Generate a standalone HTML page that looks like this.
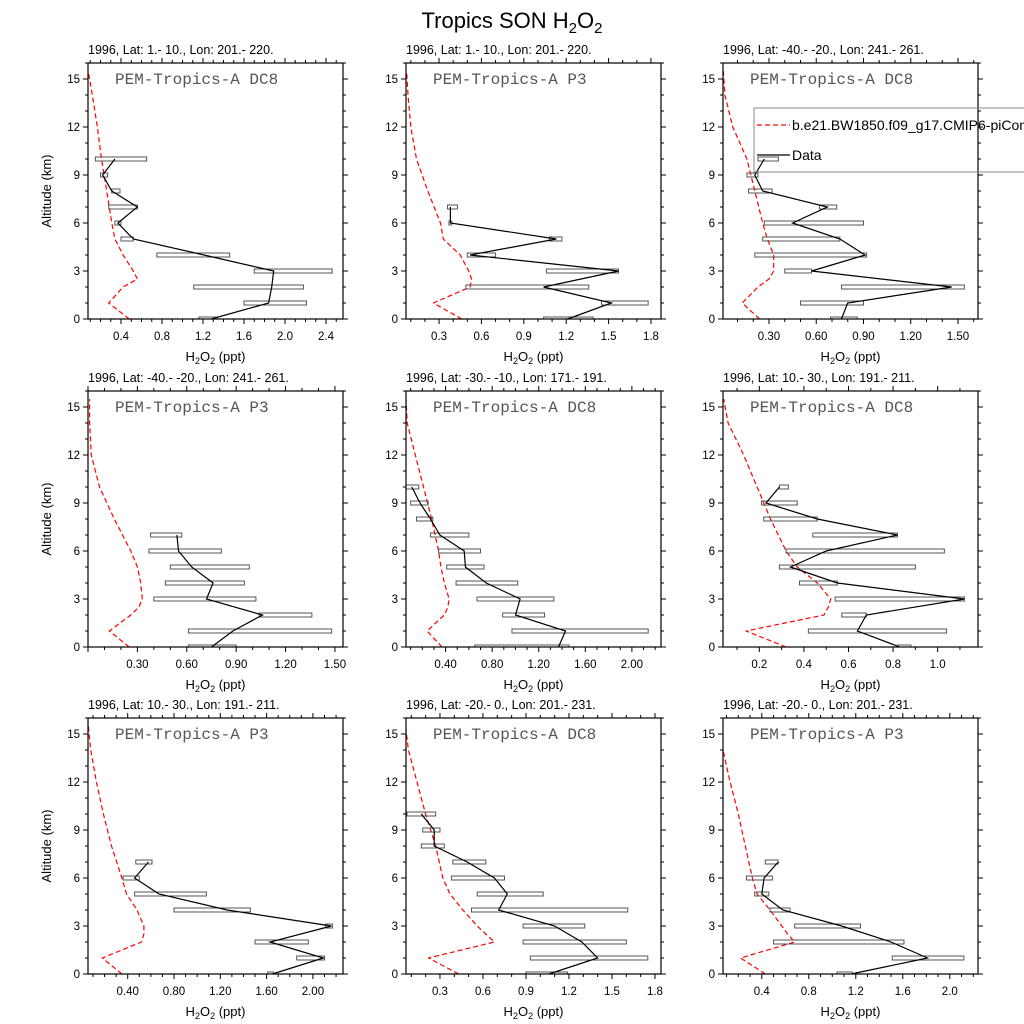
<!DOCTYPE html>
<html><head><meta charset="utf-8"><style>
body{margin:0;background:#fff;width:1024px;height:1024px;overflow:hidden}
svg{display:block}
text{font-family:"Liberation Sans",sans-serif}
text.mono{font-family:"Liberation Mono",monospace}
</style></head><body>
<svg id="chart" width="1024" height="1024" viewBox="0 0 1024 1024" xmlns="http://www.w3.org/2000/svg">
<text x="512" y="28" font-size="22" text-anchor="middle">Tropics SON H<tspan font-size="15" dy="5">2</tspan><tspan dy="-5">O</tspan><tspan font-size="15" dy="5">2</tspan></text>
</svg>
<script>
const NS='http://www.w3.org/2000/svg';
const svg=document.getElementById('chart');
const titles=["1996, Lat: 1.- 10., Lon: 201.- 220.","1996, Lat: 1.- 10., Lon: 201.- 220.","1996, Lat: -40.- -20., Lon: 241.- 261.","1996, Lat: -40.- -20., Lon: 241.- 261.","1996, Lat: -30.- -10., Lon: 171.- 191.","1996, Lat: 10.- 30., Lon: 191.- 211.","1996, Lat: 10.- 30., Lon: 191.- 211.","1996, Lat: -20.- 0., Lon: 201.- 231.","1996, Lat: -20.- 0., Lon: 201.- 231."];
const campaigns=["PEM-Tropics-A DC8","PEM-Tropics-A P3","PEM-Tropics-A DC8","PEM-Tropics-A P3","PEM-Tropics-A DC8","PEM-Tropics-A DC8","PEM-Tropics-A P3","PEM-Tropics-A DC8","PEM-Tropics-A P3"];
const xMins=[0.078,0.066,0.008,0.0,0.06,0.037,0.057,0.063,0.07];
const xMaxs=[2.566,1.871,1.627,1.549,2.25,1.181,2.26,1.842,2.24];
const tickStarts=[0.4,0.3,0.3,0.3,0.4,0.2,0.4,0.3,0.4];
const tickSteps=[0.4,0.3,0.3,0.3,0.4,0.2,0.4,0.3,0.4];
const tickEnds=[2.4,1.8,1.5,1.5,2.0,1.0,2.0,1.8,2.0];
const tickDecimals=[1,1,2,2,2,1,2,1,1];
const minorDivs=[4,3,3,3,4,2,4,3,4];
const obsMean=[
[1.28,1.84,1.87,1.89,1.21,0.52,0.37,0.56,0.31,0.22,0.34],
[1.21,1.52,1.04,1.57,0.52,1.13,0.38,0.38],
[0.76,0.80,1.46,0.57,0.91,0.75,0.45,0.67,0.26,0.21,0.27],
[0.75,0.88,1.06,0.72,0.76,0.63,0.55,0.54],
[1.37,1.43,1.00,1.04,0.75,0.57,0.56,0.35,0.27,0.18,0.11],
[0.83,0.64,0.68,1.12,0.55,0.34,0.50,0.82,0.46,0.23,0.29],
[1.65,2.09,1.63,2.16,1.26,0.67,0.46,0.58],
[1.06,1.40,1.29,1.10,0.71,0.77,0.68,0.49,0.26,0.26,0.17],
[1.16,1.81,1.50,1.08,0.58,0.40,0.42,0.54]];
const obsMin=[
[1.16,1.60,1.11,1.70,0.75,0.40,0.34,0.28,0.31,0.20,0.15],
[1.04,1.45,0.49,1.06,0.50,1.08,0.37,0.36],
[0.69,0.50,0.76,0.40,0.21,0.26,0.27,0.62,0.17,0.16,0.23],
[0.61,0.61,1.04,0.40,0.47,0.50,0.37,0.38],
[0.65,0.97,0.89,0.67,0.49,0.41,0.34,0.27,0.15,0.10,0.06],
[0.82,0.42,0.57,0.54,0.38,0.29,0.32,0.44,0.22,0.21,0.29],
[1.61,1.86,1.50,2.11,0.80,0.46,0.36,0.47],
[0.90,0.93,0.88,0.88,0.52,0.56,0.38,0.39,0.17,0.18,0.07],
[1.04,1.51,0.50,0.68,0.47,0.34,0.27,0.43]];
const obsMax=[
[1.34,2.21,2.18,2.46,1.46,0.52,0.40,0.56,0.39,0.27,0.65],
[1.39,1.78,1.36,1.57,0.70,1.17,0.39,0.43],
[0.86,0.90,1.54,0.57,0.92,0.75,0.90,0.73,0.32,0.23,0.36],
[0.90,1.48,1.36,1.02,0.95,0.98,0.81,0.57],
[1.46,2.14,1.25,1.33,1.02,0.73,0.70,0.60,0.29,0.25,0.17],
[0.88,1.04,0.68,1.12,0.55,0.90,1.03,0.82,0.46,0.37,0.33],
[1.66,2.10,1.96,2.17,1.46,1.08,0.50,0.61],
[1.19,1.75,1.60,1.31,1.61,1.02,0.75,0.62,0.33,0.30,0.27],
[1.17,2.12,1.61,1.24,0.64,0.46,0.49,0.54]];
const modelAlt=[0,1,2,2.5,3,4,5,6,8,10,12,14,15.5];
const modelVal=[
[0.48,0.28,0.42,0.56,0.52,0.42,0.34,0.31,0.26,0.21,0.17,0.12,0.08],
[0.46,0.26,0.52,0.53,0.51,0.45,0.33,0.31,0.22,0.14,0.10,0.08,0.07],
[0.24,0.13,0.23,0.30,0.33,0.33,0.29,0.26,0.21,0.16,0.07,0.02,0.01],
[0.25,0.13,0.26,0.31,0.33,0.32,0.30,0.26,0.16,0.07,0.02,0.01,0.01],
[0.37,0.24,0.39,0.42,0.43,0.39,0.36,0.34,0.28,0.21,0.14,0.07,0.06],
[0.32,0.14,0.49,0.51,0.52,0.46,0.37,0.32,0.25,0.19,0.13,0.06,0.04],
[0.35,0.18,0.52,0.54,0.54,0.48,0.39,0.35,0.26,0.19,0.13,0.08,0.06],
[0.43,0.22,0.68,0.62,0.56,0.46,0.37,0.32,0.27,0.20,0.14,0.08,0.06],
[0.43,0.22,0.68,0.62,0.57,0.47,0.36,0.32,0.26,0.20,0.13,0.07,0.06]];
const yTicks=[0,3,6,9,12,15];
const lefts=[88,406,723], tops=[63,391,718], W=255, H=256, YMAX=16;

function mk(tag,attrs,parent){const e=document.createElementNS(NS,tag);for(const k in attrs)e.setAttribute(k,attrs[k]);(parent||svg).appendChild(e);return e;}

for(let p=0;p<9;p++){
  const L=lefts[p%3], T=tops[Math.floor(p/3)], B=T+H, R=L+W;
  const xs=v=>L+(v-xMins[p])/(xMaxs[p]-xMins[p])*W;
  const ys=a=>B-a/YMAX*H;
  const g=mk('g',{});
  
  
  const cp=mk('clipPath',{id:'cp'+p},g);
  mk('rect',{x:L,y:T,width:W,height:H},cp);
  const t=mk('text',{x:L,y:T-9,'font-size':12.5},g);
  t.textContent=titles[p];
  
  
  const c=mk('text',{x:L+27,y:T+21,'font-size':16,fill:'#555','class':'mono'},g);
  c.textContent=campaigns[p];
  
  
  let d='';
  modelAlt.forEach((a,i)=>{d+=(i?'L':'M')+xs(modelVal[p][i]).toFixed(1)+','+ys(a).toFixed(1);});
  const ml=mk('path',{d:d,fill:'none',stroke:'#f00','stroke-width':1.2,'stroke-dasharray':'5,3','stroke-linejoin':'round','clip-path':'url(#cp'+p+')'},g);
  
  
  obsMean[p].forEach((m,i)=>{
    const x1=xs(obsMin[p][i]),x2=xs(obsMax[p][i]);
    const r=mk('rect',{x:x1,y:ys(i)-2,width:Math.max(x2-x1,1),height:4,fill:'none',stroke:'#555','stroke-width':1,'clip-path':'url(#cp'+p+')'},g);
    
    
  });
  let d2='';
  obsMean[p].forEach((m,i)=>{d2+=(i?'L':'M')+xs(m).toFixed(1)+','+ys(i).toFixed(1);});
  const ol=mk('path',{d:d2,fill:'none',stroke:'#000','stroke-width':1.2},g);
  
  
  mk('rect',{x:L,y:T,width:W,height:H,fill:'none',stroke:'#000','stroke-width':1.2},g);
  for(let a=0;a<=YMAX;a++){
    const len=(a%3===0)?5:3, y=ys(a);
    mk('line',{x1:L-len,y1:y,x2:L,y2:y,stroke:'#000'},g);
    mk('line',{x1:R,y1:y,x2:R+len,y2:y,stroke:'#000'},g);
  }
  yTicks.forEach(a=>{
    const tl=mk('text',{x:L-8,y:ys(a)+4,'font-size':11.5,'text-anchor':'end'},g);
    tl.textContent=a;
    
    
  });
  const minor=tickSteps[p]/minorDivs[p];
  for(let v=tickStarts[p]-Math.floor((tickStarts[p]-xMins[p])/minor)*minor; v<=xMaxs[p]+1e-9; v+=minor){
    const k=Math.round((v-tickStarts[p])/minor);
    const len=(k%minorDivs[p]===0)?5:3, x=xs(v);
    mk('line',{x1:x,y1:B,x2:x,y2:B+len,stroke:'#000'},g);
    mk('line',{x1:x,y1:T-len,x2:x,y2:T,stroke:'#000'},g);
  }
  for(let v=tickStarts[p]; v<=tickEnds[p]+1e-9; v+=tickSteps[p]){
    const xl=mk('text',{x:xs(v),y:B+21,'font-size':11.5,'text-anchor':'middle'},g);
    xl.textContent=v.toFixed(tickDecimals[p]);
    
    
  }
  const xt=mk('text',{x:L+W/2,y:B+42,'font-size':13,'text-anchor':'middle'},g);
  xt.innerHTML='H<tspan font-size="9" dy="3">2</tspan><tspan dy="-3">O</tspan><tspan font-size="9" dy="3">2</tspan><tspan dy="-3"> (ppt)</tspan>';
  
  
  if(p%3===0){
    const yt=mk('text',{x:0,y:0,'font-size':13,'text-anchor':'middle',transform:'translate(51,'+(T+H/2)+') rotate(-90)'},g);
    yt.textContent='Altitude (km)';
    
    
  }
}
const lg=mk('g',{});


mk('rect',{x:754,y:108,width:300,height:64,fill:'none',stroke:'#888','stroke-width':1},lg);
mk('line',{x1:757,y1:125,x2:790,y2:125,stroke:'#f00','stroke-width':1.2,'stroke-dasharray':'5,3'},lg);
const l1=mk('text',{x:792,y:130,'font-size':14},lg);
l1.textContent='b.e21.BW1850.f09_g17.CMIP6-piControl';


mk('line',{x1:757,y1:155,x2:790,y2:155,stroke:'#000','stroke-width':1.2},lg);
const l2=mk('text',{x:792,y:160,'font-size':14},lg);
l2.textContent='Data';


</script>
</body></html>
